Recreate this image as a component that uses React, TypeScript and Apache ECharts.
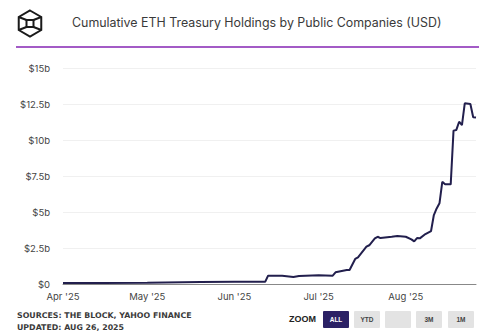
import React, { useEffect, useRef } from "react";
import * as echarts from "echarts";

const dates = [
  "2025-04-01", "2025-04-15", "2025-05-01", "2025-05-20", "2025-06-01", "2025-06-12",
  "2025-06-13", "2025-06-18", "2025-06-22", "2025-06-24", "2025-07-01", "2025-07-06",
  "2025-07-07", "2025-07-11", "2025-07-12", "2025-07-14", "2025-07-15", "2025-07-18",
  "2025-07-19", "2025-07-21", "2025-07-22", "2025-07-23", "2025-07-27", "2025-07-29",
  "2025-08-01", "2025-08-03", "2025-08-04", "2025-08-05", "2025-08-06", "2025-08-08",
  "2025-08-10", "2025-08-11", "2025-08-12", "2025-08-13", "2025-08-14", "2025-08-15",
  "2025-08-17", "2025-08-18", "2025-08-19", "2025-08-20", "2025-08-21", "2025-08-22",
  "2025-08-24", "2025-08-25", "2025-08-26",
];
const values = [
  0.07, 0.07, 0.09, 0.14, 0.15, 0.16,
  0.58, 0.58, 0.49, 0.56, 0.6, 0.58,
  0.81, 0.97, 0.97, 1.74, 1.85, 2.59,
  2.69, 3.17, 3.28, 3.19, 3.28, 3.33,
  3.28, 3.1, 2.96, 3.19, 3.17, 3.47,
  3.68, 4.79, 5.25, 5.6, 7.1, 6.92,
  6.92, 10.65, 10.7, 11.27, 11.04, 12.55,
  12.5, 11.58, 11.56,
];
const yTickLabels = ["$0", "$2.5b", "$5b", "$7.5b", "$10b", "$12.5b", "$15b"];
const monthNames = ["Jan", "Feb", "Mar", "Apr", "May", "Jun", "Jul", "Aug", "Sep", "Oct", "Nov", "Dec"];
const zoomButtons = ["ALL", "YTD", "", "3M", "1M"];
const sourceLines = ["SOURCES: THE BLOCK, YAHOO FINANCE", "UPDATED: AUG 26, 2025"];
const titleText = "Cumulative ETH Treasury Holdings by Public Companies (USD)";

function toTs(s: string) {
  const [y, m, d] = s.split("-").map(Number);
  return Date.UTC(y, m - 1, d);
}

export default function App() {
  const ref = useRef<HTMLDivElement>(null);
  useEffect(() => {
    document.body.style.margin = "0";
    if (!ref.current) return;
    const chart = echarts.init(ref.current, null, { renderer: "svg" });
    const font = "Inter, 'Liberation Sans', sans-serif";
    const smallFont = "'DejaVu Sans', 'Liberation Sans', sans-serif";
    const data = dates.map((d, i) => [toTs(d), values[i]]);

    const cx = 30, cy = 23.5, r = 13;
    const hex = [0, 1, 2, 3, 4, 5].map((k) => {
      const a = (Math.PI / 180) * (-90 + 60 * k);
      return [cx + r * Math.cos(a), cy + r * Math.sin(a)];
    });
    const s = 3.5;
    const sq = [
      [cx - s, cy - s], [cx + s, cy - s], [cx + s, cy + s], [cx - s, cy + s],
    ];
    const logoStyle = { fill: "none", stroke: "#1a1a1a", lineWidth: 2 };

    const buttonX = [323, 354, 385, 416, 448];
    const graphic: any[] = [
      { type: "polygon", shape: { points: hex }, style: logoStyle },
      { type: "polygon", shape: { points: sq }, style: logoStyle },
      { type: "line", shape: { x1: hex[5][0], y1: hex[5][1], x2: sq[0][0], y2: sq[0][1] }, style: logoStyle },
      { type: "line", shape: { x1: hex[1][0], y1: hex[1][1], x2: sq[1][0], y2: sq[1][1] }, style: logoStyle },
      { type: "line", shape: { x1: hex[2][0], y1: hex[2][1], x2: sq[2][0], y2: sq[2][1] }, style: logoStyle },
      { type: "line", shape: { x1: hex[4][0], y1: hex[4][1], x2: sq[3][0], y2: sq[3][1] }, style: logoStyle },
      {
        type: "text", x: 72, y: 22,
        style: { text: titleText, font: `12.4px ${font}`, fill: "#3a3a3a", textVerticalAlign: "middle" },
      },
      { type: "rect", shape: { x: 16, y: 46, width: 463, height: 2 }, style: { fill: "#a35bc6" } },
      {
        type: "text", x: 17, y: 315,
        style: { text: sourceLines[0], font: `bold 7.85px ${smallFont}`, fill: "#3a3a3a", textVerticalAlign: "middle" },
      },
      {
        type: "text", x: 17, y: 327,
        style: { text: sourceLines[1], font: `bold 7.85px ${smallFont}`, fill: "#3a3a3a", textVerticalAlign: "middle" },
      },
      {
        type: "text", x: 289, y: 319,
        style: { text: "ZOOM", font: `bold 9px 'Liberation Sans', Arial, sans-serif`, fill: "#222", textVerticalAlign: "middle" },
      },
    ];
    zoomButtons.forEach((b, i) => {
      const active = i === 0;
      graphic.push({
        type: "rect",
        shape: { x: buttonX[i], y: 311, width: 26, height: 17, r: 1 },
        style: { fill: active ? "#2b2165" : "#e3e3e3" },
      });
      if (b) {
        graphic.push({
          type: "text", x: buttonX[i] + 13, y: 319.5,
          style: {
            text: b, font: `bold 6.5px 'Liberation Sans', Arial, sans-serif`,
            fill: active ? "#ffffff" : "#444", textAlign: "center", textVerticalAlign: "middle",
          },
        });
      }
    });

    chart.setOption({
      animation: false,
      backgroundColor: "#ffffff",
      grid: { left: 63, right: 24, top: 68, bottom: 50, containLabel: false },
      xAxis: {
        type: "time",
        min: toTs("2025-04-01"),
        max: toTs("2025-08-26"),
        axisLine: { show: true, lineStyle: { color: "#888", width: 1 } },
        axisTick: { show: false },
        splitLine: { show: false },
        axisLabel: {
          color: "#444",
          fontSize: 9.5,
          fontFamily: font,
          margin: 7,
          showMaxLabel: false,
          hideOverlap: false,
          formatter: (v: number) => {
            const d = new Date(v);
            if (d.getUTCDate() !== 1) return "";
            return `${monthNames[d.getUTCMonth()]} '${String(d.getUTCFullYear()).slice(2)}`;
          },
        },
      },
      yAxis: {
        type: "value",
        min: 0,
        max: 15,
        interval: 2.5,
        axisLine: { show: false },
        axisTick: { show: false },
        splitLine: { show: true, lineStyle: { color: "#f0f0f0", width: 1 } },
        axisLabel: {
          color: "#444",
          fontSize: 9.5,
          fontFamily: font,
          margin: 13,
          formatter: (v: number) => yTickLabels[Math.round(v / 2.5)] ?? "",
        },
      },
      series: [
        {
          type: "line",
          data,
          showSymbol: false,
          symbol: "none",
          lineStyle: { color: "#221f4d", width: 2 },
        },
      ],
      graphic,
    });
    return () => chart.dispose();
  }, []);
  return <div ref={ref} style={{ width: 500, height: 334 }} />;
}
